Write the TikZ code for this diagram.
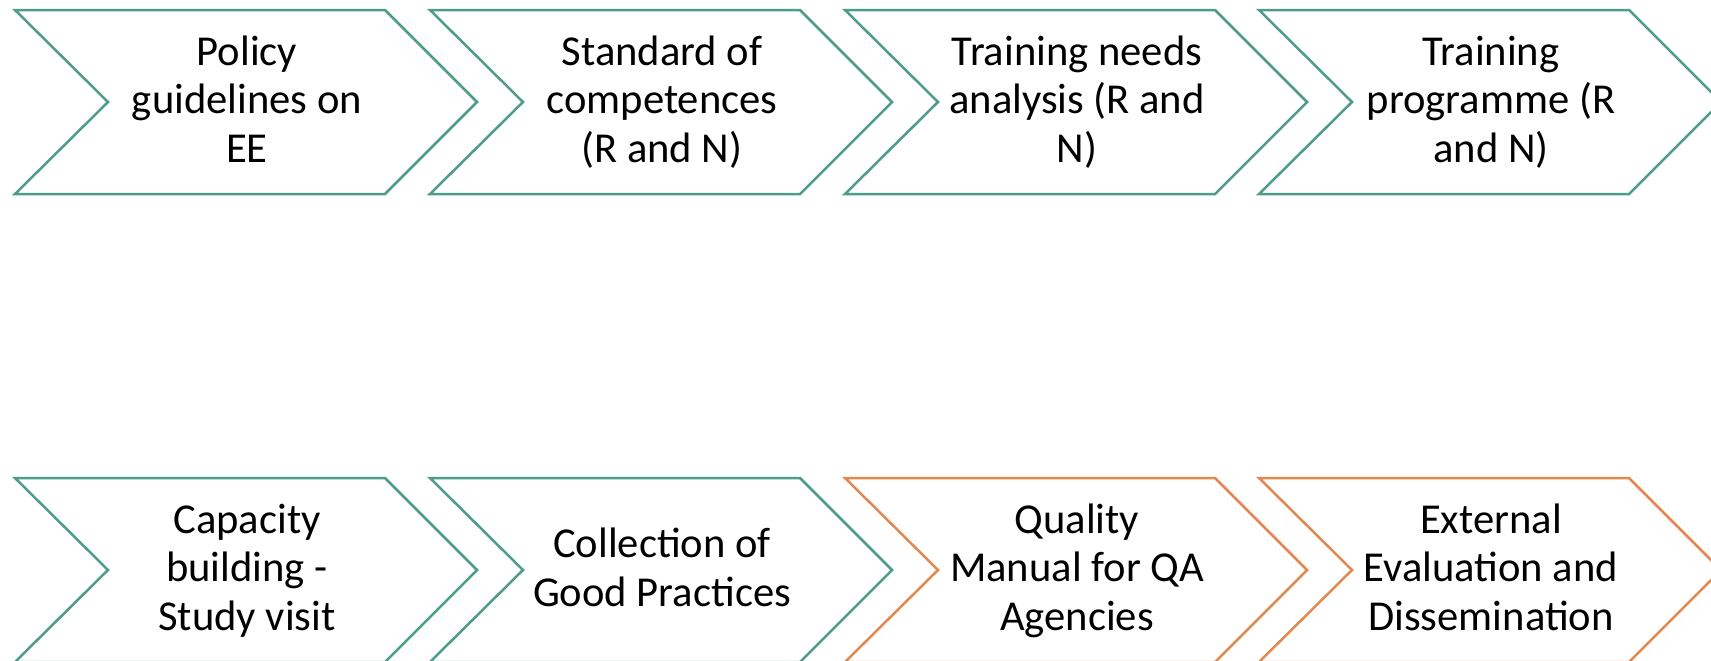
\documentclass[tikz,border=0pt]{standalone}
\usepackage{fontspec}
\setmainfont{Carlito}
\definecolor{tealline}{RGB}{78,156,138}
\definecolor{orangeline}{RGB}{224,138,82}
\tikzset{
  chev/.style={line width=1.25pt, line join=miter},
  chevtext/.style={align=center, text=black, inner sep=0pt,
    font=\fontsize{21.3}{24.3}\selectfont}
}
\newcommand{\chevpath}[3]{% #1 colour, #2 left, #3 top
  \draw[chev, draw=#1] (#2,#3) -- ++(370,0) -- ++(92,92) -- ++(-92,92)
    -- ++(-370,0) -- ++(93,-92) -- cycle;}
\begin{document}
\begin{tikzpicture}[x=0.5pt, y=-0.5pt]
\clip (0,0) rectangle (1711,660);
\fill[white] (0,0) rectangle (1711,660);
% top row
\chevpath{tealline}{15}{10}
\chevpath{tealline}{430}{10}
\chevpath{tealline}{845}{10}
\chevpath{tealline}{1259}{10}
% bottom row
\chevpath{tealline}{15}{478}
\chevpath{tealline}{430}{478}
\chevpath{orangeline}{845}{478}
\chevpath{orangeline}{1259}{478}
% texts
\node[chevtext] (t1) at (247,104) {\strut Policy\\\strut guidelines on\\\strut EE};
\node[chevtext] (t2) at (662,104) {\strut Standard of\\\strut competences\\\strut (R and N)};
\node[chevtext] (t3) at (1077,104) {\strut Training needs\\\strut analysis (R and\\\strut N)};
\node[chevtext] (t4) at (1491,104) {\strut Training\\\strut programme (R\\\strut and N)};
\node[chevtext] (b1) at (247,572) {\strut Capacity\\\strut building -\\\strut Study visit};
\node[chevtext] (b2) at (662,572) {\strut Collection of\\\strut Good Practices};
\node[chevtext] (b3) at (1077,572) {\strut Quality\\\strut Manual for QA\\\strut Agencies};
\node[chevtext] (b4) at (1491,572) {\strut External\\\strut Evaluation and\\\strut Dissemination};
\end{tikzpicture}
\end{document}
